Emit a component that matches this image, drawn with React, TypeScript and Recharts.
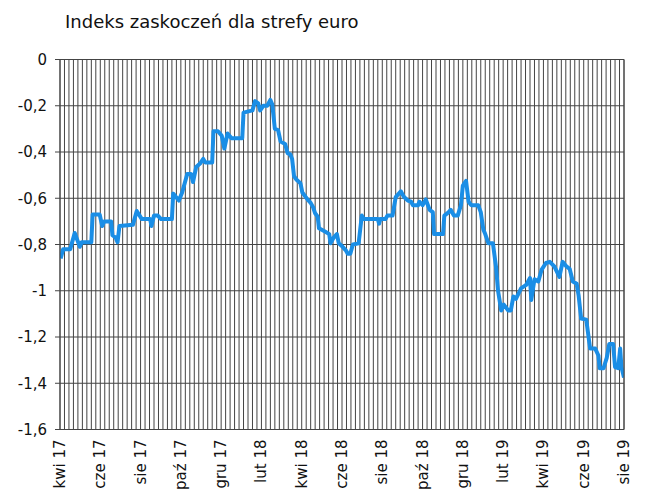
import React from "react";
import { LineChart, Line, XAxis, YAxis, CartesianGrid } from "recharts";

// Days since the first week of the sample (weekly gridlines every 7 days)
const days = [
  1, 5, 16, 23, 27, 31, 34, 49, 51, 62,
  66, 69, 80, 82, 87, 90, 93, 114, 120, 128,
  141, 143, 147, 153, 158, 175, 177, 183, 186, 191,
  195, 199, 205, 208, 213, 219, 224, 227, 238, 240,
  247, 253, 257, 262, 268, 285, 287, 301, 305, 310,
  313, 318, 324, 329, 332, 336, 341, 345, 352, 356,
  360, 363, 366, 370, 376, 379, 387, 392, 396, 399,
  403, 405, 415, 421, 423, 428, 433, 436, 442, 447,
  450, 454, 458, 467, 472, 475, 497, 499, 501, 509,
  512, 520, 525, 533, 538, 544, 549, 552, 560, 562,
  567, 572, 578, 583, 585, 599, 601, 608, 611, 616,
  622, 627, 630, 635, 639, 643, 654, 658, 662, 665,
  670, 677, 682, 685, 690, 694, 701, 705, 709, 713,
  721, 729, 735, 737, 742, 748, 753, 760, 766, 773,
  781, 786, 792, 797, 802, 808, 811, 815, 823, 829,
  837, 842, 844, 850, 855, 859, 865, 868, 873, 876,
  878, 882,
];

const surpriseIndex = [
  -0.86, -0.82, -0.82, -0.75, -0.78, -0.81, -0.79, -0.79, -0.67, -0.67,
  -0.72, -0.7, -0.7, -0.76, -0.77, -0.79, -0.72, -0.715, -0.655, -0.69,
  -0.69, -0.72, -0.675, -0.675, -0.69, -0.69, -0.58, -0.6, -0.61, -0.575,
  -0.535, -0.495, -0.495, -0.53, -0.465, -0.45, -0.43, -0.445, -0.445, -0.31,
  -0.31, -0.33, -0.385, -0.32, -0.34, -0.34, -0.23, -0.22, -0.18, -0.19,
  -0.22, -0.2, -0.2, -0.175, -0.195, -0.3, -0.305, -0.355, -0.365, -0.405,
  -0.41, -0.43, -0.505, -0.52, -0.535, -0.575, -0.605, -0.62, -0.64, -0.665,
  -0.68, -0.73, -0.745, -0.755, -0.795, -0.77, -0.755, -0.795, -0.81, -0.825,
  -0.84, -0.84, -0.8, -0.795, -0.675, -0.69, -0.69, -0.71, -0.69, -0.69,
  -0.675, -0.675, -0.595, -0.57, -0.595, -0.61, -0.615, -0.63, -0.63, -0.615,
  -0.63, -0.605, -0.65, -0.66, -0.755, -0.755, -0.675, -0.66, -0.65, -0.675,
  -0.675, -0.63, -0.545, -0.525, -0.615, -0.63, -0.63, -0.66, -0.735, -0.755,
  -0.795, -0.795, -0.9, -1.0, -1.085, -1.06, -1.085, -1.085, -1.025, -1.035,
  -0.99, -0.975, -0.945, -1.04, -0.95, -0.96, -0.91, -0.88, -0.875, -0.895,
  -0.94, -0.875, -0.895, -0.905, -0.96, -0.97, -1.02, -1.12, -1.125, -1.25,
  -1.25, -1.28, -1.335, -1.335, -1.29, -1.23, -1.23, -1.33, -1.335, -1.25,
  -1.33, -1.375,
];

const monthLabels = [
  "kwi 17", "cze 17", "sie 17", "paź 17", "gru 17", "lut 18", "kwi 18", "cze 18",
  "sie 18", "paź 18", "gru 18", "lut 19", "kwi 19", "cze 19", "sie 19",
];
const labelStepDays = 63; // one label every 9 weeks
const lastDay = 882;
const yTicks = [0, -0.2, -0.4, -0.6, -0.8, -1, -1.2, -1.4, -1.6];
const rightTicks = [0, 1, 2, 3, 4, 5, 6, 7, 8, 9, 10];

const weekTicks = Array.from({ length: lastDay / 7 + 1 }, (_, i) => i * 7);
const data = days.map((d, i) => ({ day: d, value: surpriseIndex[i] }));

const FONT = "'DejaVu Sans', Verdana, sans-serif";
const GRID = "#444444";

const XTick = (props: any) => {
  const { x, y, payload } = props;
  const v = payload.value as number;
  if (v % labelStepDays !== 0) return <g />;
  const label = monthLabels[v / labelStepDays];
  return (
    <text
      x={x}
      y={y}
      transform={`rotate(-90 ${x} ${y})`}
      textAnchor="end"
      dominantBaseline="central"
      fontSize={15}
      fill="#111"
      fontFamily={FONT}
    >
      {label}
    </text>
  );
};

export default function App() {
  return (
    <div style={{ position: "relative", width: 656, height: 483, fontFamily: FONT, background: "#fff" }}>
      <div
        style={{
          position: "absolute",
          left: 57,
          top: 5,
          fontSize: 18,
          lineHeight: "18px",
          color: "#111",
          whiteSpace: "nowrap",
          fontFamily: FONT,
        }}
      >
        Indeks zaskoczeń dla strefy euro
      </div>
      <LineChart
        width={656}
        height={483}
        data={data}
        margin={{ top: 51.5, right: 10, bottom: 9.5, left: 0 }}
      >
        <CartesianGrid stroke={GRID} strokeWidth={1} vertical horizontal />
        <XAxis
          dataKey="day"
          type="number"
          domain={[0, lastDay]}
          ticks={weekTicks}
          interval={0}
          tick={<XTick />}
          tickLine={false}
          tickSize={0}
          tickMargin={10}
          height={52}
          axisLine={{ stroke: GRID }}
          allowDataOverflow
        />
        <YAxis
          domain={[-1.6, 0]}
          ticks={yTicks}
          interval={0}
          width={52}
          tickSize={5}
          tickMargin={8}
          tick={{ fontSize: 15, fill: "#111", fontFamily: FONT }}
          tickFormatter={(v: number) => String(Math.round(v * 10) / 10).replace(".", ",")}
          axisLine={{ stroke: GRID }}
          tickLine={{ stroke: GRID }}
          allowDataOverflow
        />
        <YAxis
          yAxisId="right"
          orientation="right"
          domain={[0, 10]}
          ticks={rightTicks}
          interval={0}
          width={30}
          tickSize={6}
          tickFormatter={() => ""}
          axisLine={{ stroke: GRID }}
          tickLine={{ stroke: GRID }}
        />
        <Line
          type="linear"
          dataKey="value"
          stroke="#1a8ee6"
          strokeWidth={4}
          strokeLinejoin="round"
          dot={false}
          isAnimationActive={false}
        />
      </LineChart>
    </div>
  );
}
